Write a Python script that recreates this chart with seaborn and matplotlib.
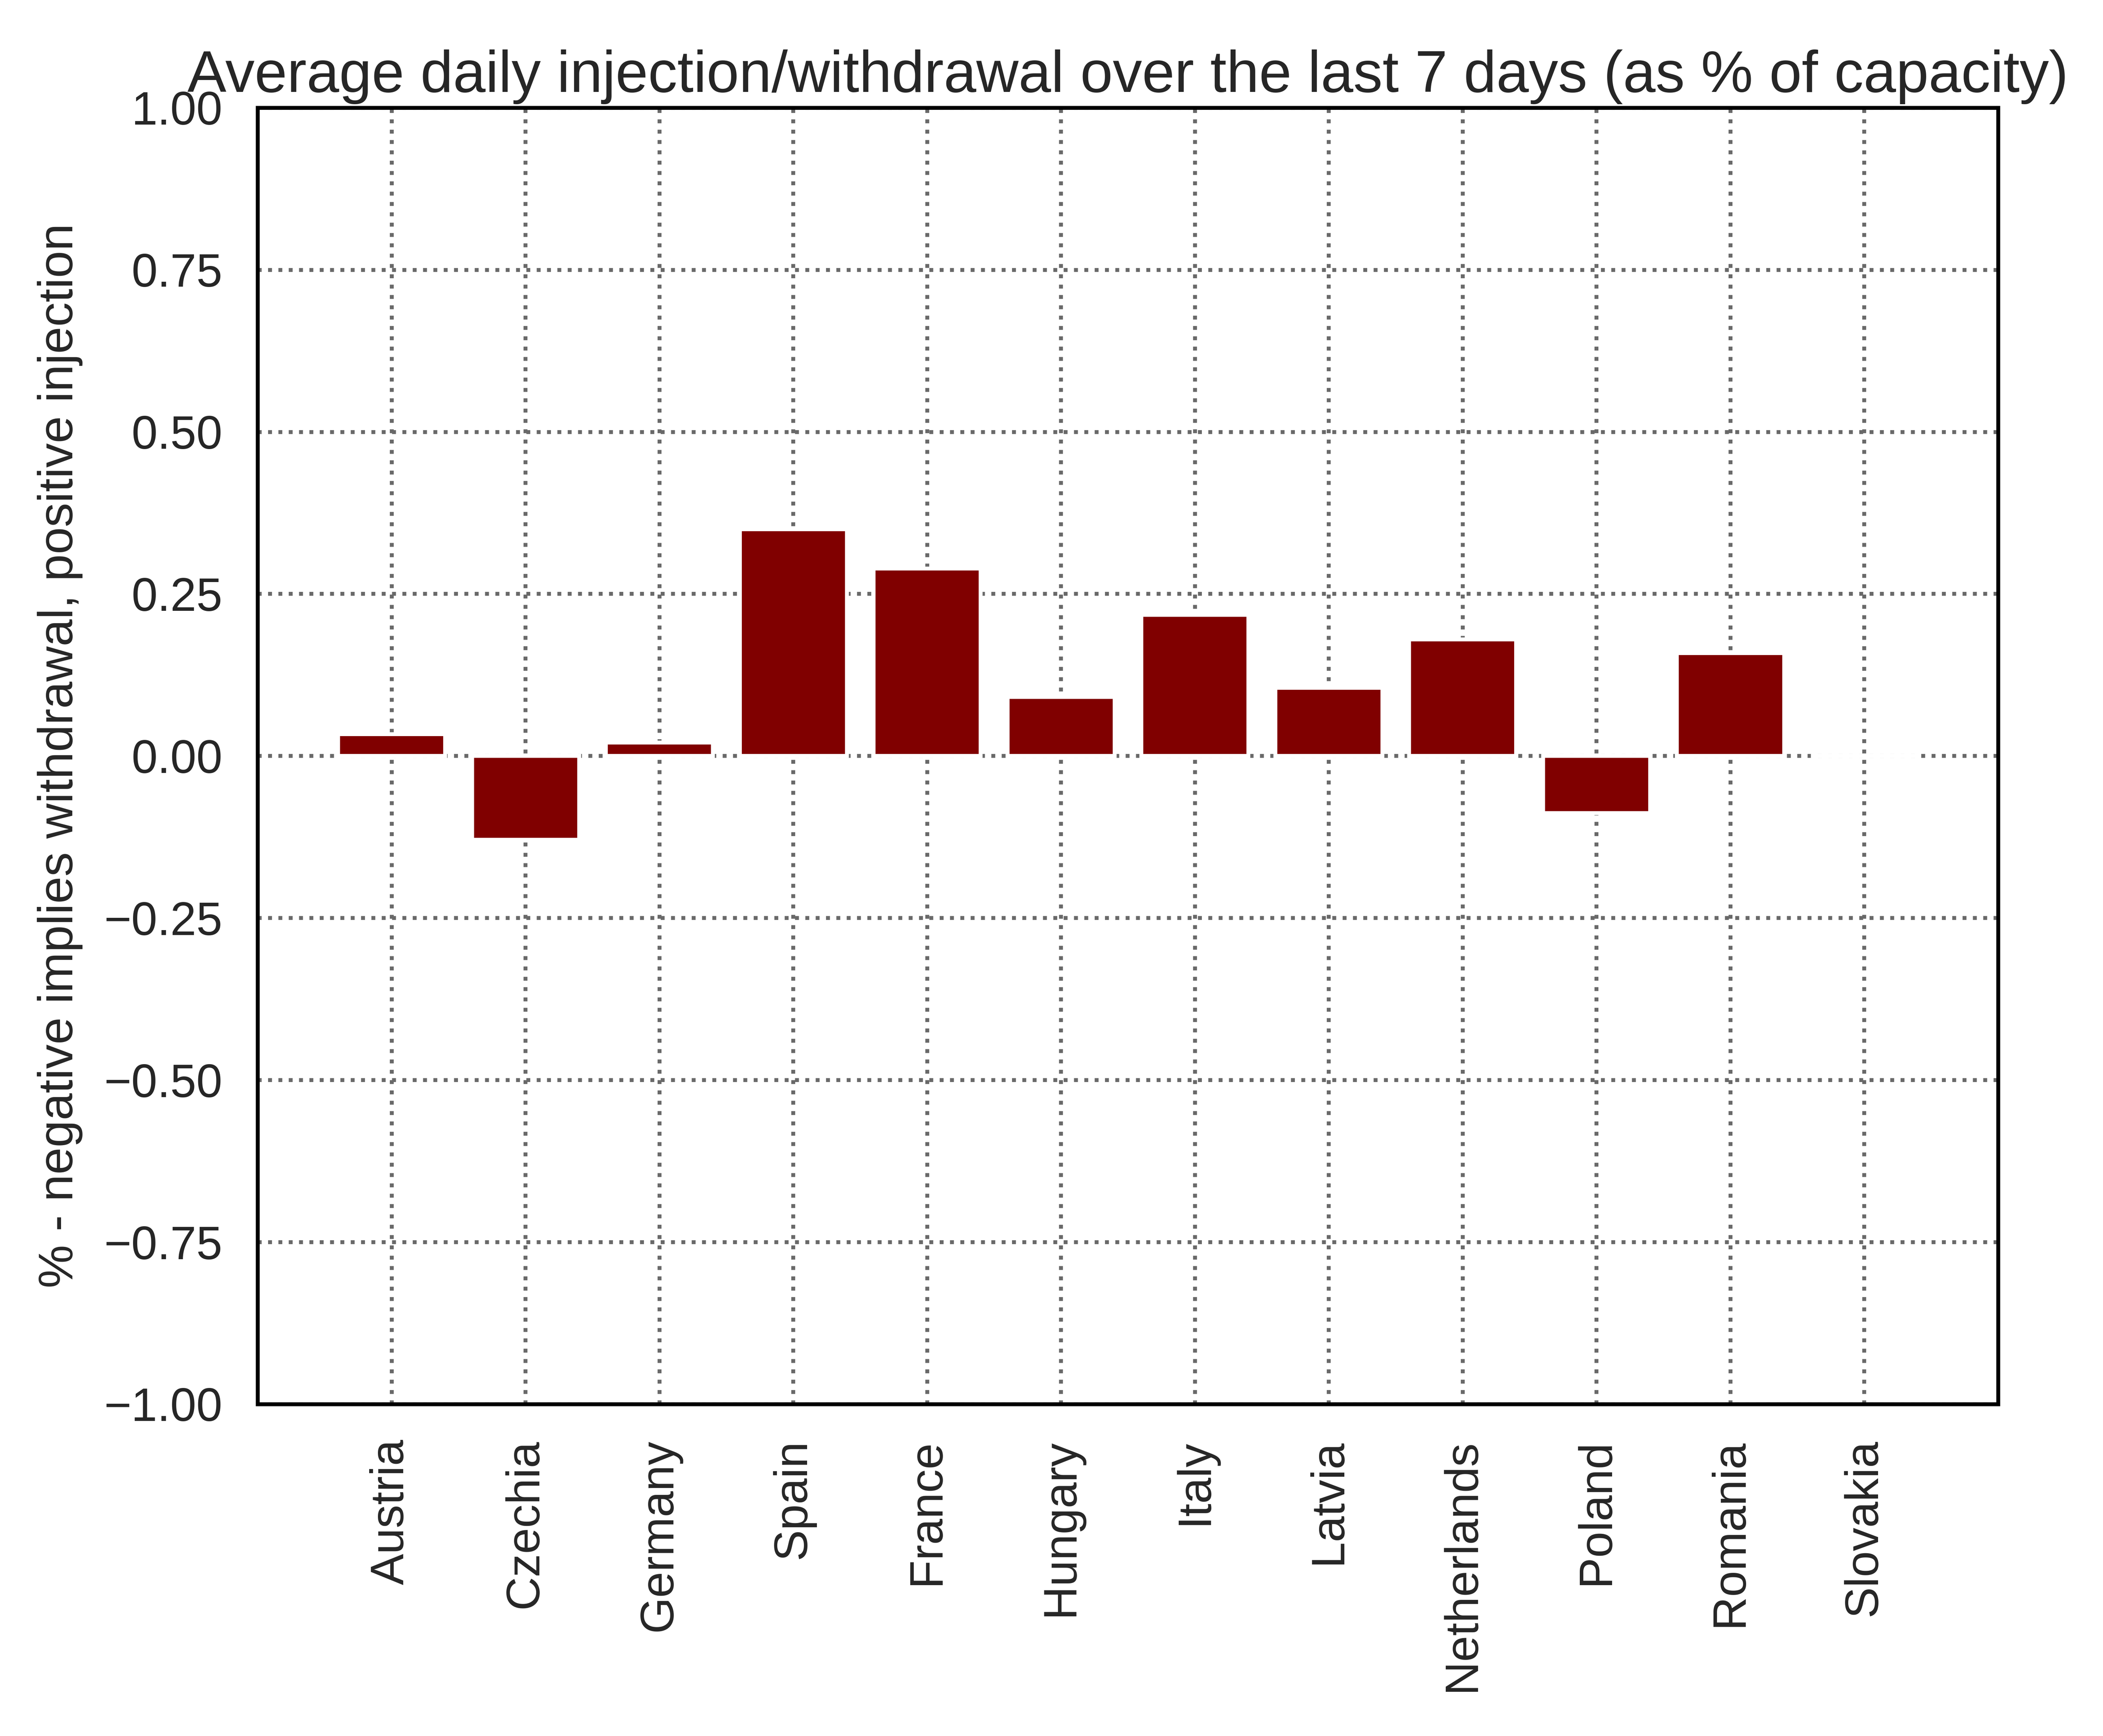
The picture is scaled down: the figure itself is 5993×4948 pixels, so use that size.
import numpy as np
import pandas as pd
import matplotlib
matplotlib.use("Agg")
import matplotlib.pyplot as plt
import seaborn as sns

countries = ["Austria", "Czechia", "Germany", "Spain", "France", "Hungary",
             "Italy", "Latvia", "Netherlands", "Poland", "Romania", "Slovakia"]
avg_change = [0.034, -0.129, 0.021, 0.350, 0.289, 0.091,
              0.218, 0.105, 0.180, -0.088, 0.159, 0.0]
y_ticks = [-1.0, -0.75, -0.5, -0.25, 0.0, 0.25, 0.5, 0.75, 1.0]

df = pd.DataFrame({"country": countries, "change": avg_change})

sns.set_theme(style="white")
plt.rcParams["font.family"] = ["Liberation Sans", "DejaVu Sans"]
plt.rcParams["text.color"] = "#262626"

fig = plt.figure(figsize=(5993 / 800, 4948 / 800), dpi=800)
ax = fig.add_axes([0.1225, 0.1912, 0.8276, 0.7468])

sns.barplot(data=df, x="country", y="change", color="#800000",
            saturation=1, width=0.8, edgecolor="white", linewidth=1,
            ax=ax)

ax.set_xlim(-1, 12)
ax.set_ylim(-1, 1)
ax.set_yticks(y_ticks)
ax.set_yticklabels([f"{t:.2f}".replace("-", "\u2212") for t in y_ticks])
ax.grid(True, linestyle=":", color="dimgray", linewidth=1)
ax.set_axisbelow(True)

for s in ax.spines.values():
    s.set_color("black")
    s.set_linewidth(1.0)

ax.tick_params(axis="x", rotation=90, labelsize=12, length=0, pad=9,
               labelcolor="#262626")
ax.tick_params(axis="y", labelsize=12, length=0, pad=9, labelcolor="#262626")

ax.set_xlabel("")
ax.set_ylabel("% - negative implies withdrawal, positive injection",
              fontsize=12.5, labelpad=5.5, color="#262626")
ax.set_title("Average daily injection/withdrawal over the last 7 days (as % of capacity)",
             fontsize=15, pad=4, color="#262626")

fig.savefig("out.png", dpi=800)
